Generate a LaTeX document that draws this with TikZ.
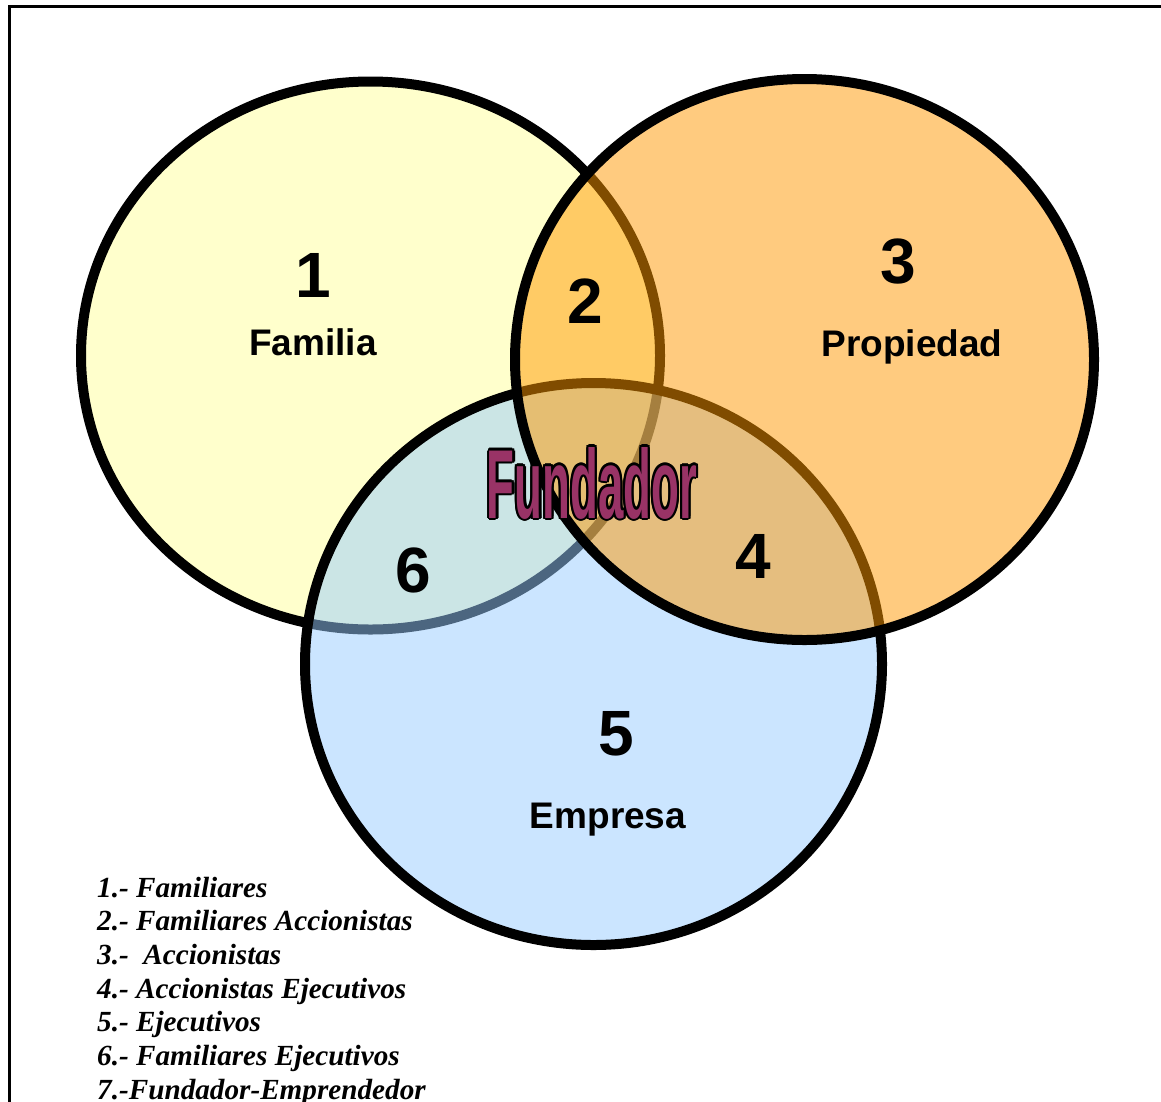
\documentclass[tikz,border=0pt]{standalone}
\usepackage{fontspec}
\usepackage{graphicx}
\setmainfont{Liberation Sans}
\newfontfamily\legendfont{Liberation Serif}
\definecolor{famfill}{RGB}{255,255,204}
\definecolor{empfill}{RGB}{153,204,255}
\definecolor{propfill}{RGB}{255,153,0}
\definecolor{fundcol}{RGB}{153,51,102}
\newcommand{\fundword}{\scalebox{0.465}[1]{\fontsize{98}{98}\selectfont\bfseries Fundador}}
\begin{document}
\begin{tikzpicture}[x=1pt,y=-1pt,
  setring/.style={line width=10pt,draw=black},
  numlabel/.style={anchor=base,inner sep=0pt,font=\fontsize{64}{64}\selectfont\bfseries},
  namelabel/.style={anchor=base,inner sep=0pt,font=\fontsize{37}{37}\selectfont\bfseries},
  legendline/.style={anchor=base west,inner sep=0pt,font=\legendfont\fontsize{29.2}{29.2}\selectfont\bfseries\itshape}]
\useasboundingbox (0,0) rectangle (1161,1101);
\fill[white] (0,0) rectangle (1161,1101);
% outer frame, running off the page to the right and bottom
\begin{scope}
  \clip (0,0) rectangle (1161,1101);
  \draw[line width=3pt] (9,1120) -- (9,6) -- (1180,6);
\end{scope}
% the three sets
\filldraw[setring,fill=famfill] (370.5,355.5) ellipse [x radius=289.5, y radius=274];
\fill[empfill,fill opacity=0.5] (593.5,664) ellipse [x radius=288.5, y radius=281];
\draw[setring] (593.5,664) ellipse [x radius=288.5, y radius=281];
\fill[propfill,fill opacity=0.5] (804.5,359.5) ellipse [x radius=289.5, y radius=280.5];
\draw[setring] (804.5,359.5) ellipse [x radius=289.5, y radius=280.5];
% region numbers and set names
\node[numlabel] (n1) at (313,297) {1};
\node[namelabel] (famname) at (313,355) {Familia};
\node[numlabel] (n2) at (585,323) {2};
\node[numlabel] (n3) at (898,283) {3};
\node[namelabel] (propname) at (912,356) {Propiedad};
\node[numlabel] (n4) at (753,578) {4};
\node[numlabel] (n5) at (616,755) {5};
\node[namelabel] (empname) at (608,828) {Empresa};
\node[numlabel] (n6) at (413,592) {6};
% outlined title in the common region
\foreach \a in {0,30,...,330}
  \node[anchor=base,inner sep=0pt,text=black] at ({592+2.2*cos(\a)},{518+2.2*sin(\a)}) {\fundword};
\node[anchor=base,inner sep=0pt,text=fundcol] (fund) at (592,518) {\fundword};
% legend
\node[legendline] (l1) at (97,897) {1.- Familiares};
\node[legendline] (l2) at (97,930.7) {2.- Familiares Accionistas};
\node[legendline] (l3) at (97,964.4) {3.-\ \ Accionistas};
\node[legendline] (l4) at (97,998.1) {4.- Accionistas Ejecutivos};
\node[legendline] (l5) at (97,1031.8) {5.- Ejecutivos};
\node[legendline] (l6) at (97,1065.5) {6.- Familiares Ejecutivos};
\node[legendline] (l7) at (97,1099.2) {7.-Fundador-Emprendedor};
\end{tikzpicture}
\end{document}
